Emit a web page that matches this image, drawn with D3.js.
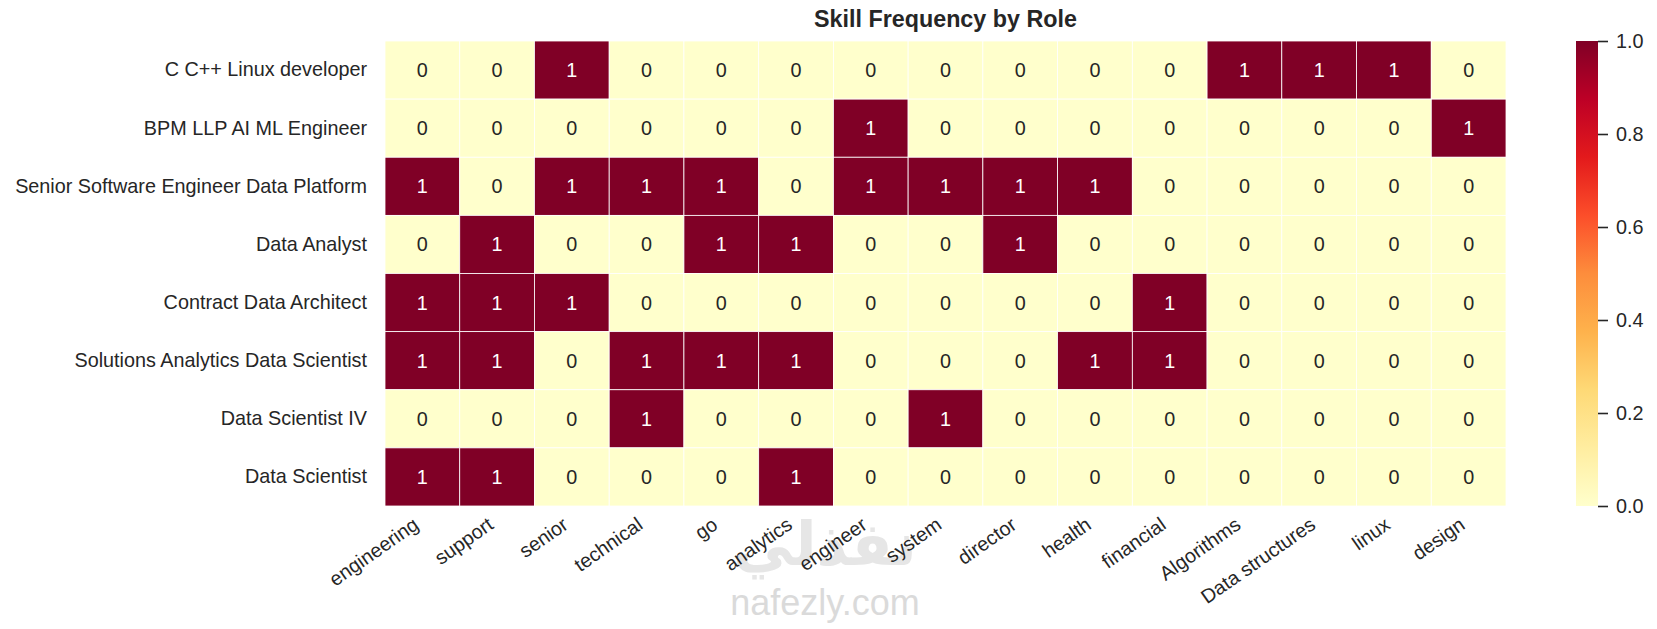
<!DOCTYPE html>
<html>
<head>
<meta charset="utf-8">
<script src="https://cdn.jsdelivr.net/npm/d3@7"></script>
<style>
    body { margin: 0; background: #fff; }
    svg text { font-family: "Liberation Sans", Arial, sans-serif; fill: #262626; }
</style>
</head>
<body>
<svg id="chart" width="1657" height="629"></svg>
<script>
/* Skill frequency heatmap */

const roles = [
    "C C++ Linux developer",
    "BPM LLP AI ML Engineer",
    "Senior Software Engineer Data Platform",
    "Data Analyst",
    "Contract Data Architect",
    "Solutions Analytics Data Scientist",
    "Data Scientist IV",
    "Data Scientist"
];

const skills = [
    "engineering", "support", "senior", "technical", "go", "analytics", "engineer",
    "system", "director", "health", "financial", "Algorithms", "Data structures", "linux", "design"
];

// one row per role, one value per skill
const counts = [
    [0, 0, 1, 0, 0, 0, 0, 0, 0, 0, 0, 1, 1, 1, 0],
    [0, 0, 0, 0, 0, 0, 1, 0, 0, 0, 0, 0, 0, 0, 1],
    [1, 0, 1, 1, 1, 0, 1, 1, 1, 1, 0, 0, 0, 0, 0],
    [0, 1, 0, 0, 1, 1, 0, 0, 1, 0, 0, 0, 0, 0, 0],
    [1, 1, 1, 0, 0, 0, 0, 0, 0, 0, 1, 0, 0, 0, 0],
    [1, 1, 0, 1, 1, 1, 0, 0, 0, 1, 1, 0, 0, 0, 0],
    [0, 0, 0, 1, 0, 0, 0, 1, 0, 0, 0, 0, 0, 0, 0],
    [1, 1, 0, 0, 0, 1, 0, 0, 0, 0, 0, 0, 0, 0, 0]
];

const colorTicks = [0, 0.2, 0.4, 0.6, 0.8, 1.0];

const title = "Skill Frequency by Role";

// YlOrRd stops (matplotlib)
const ylOrRd = ["#ffffcc", "#ffeda0", "#fed976", "#feb24c", "#fd8d3c", "#fc4e2a", "#e31a1c", "#bd0026", "#800026"];

const svg = d3.select("#chart");
const FONT = 19.8;

const x = d3.scaleBand().domain(skills).range([385, 1506]);
const y = d3.scaleBand().domain(roles).range([41, 506]);

const color = d3.scaleLinear()
    .domain(d3.range(ylOrRd.length).map(i => i / (ylOrRd.length - 1)))
    .range(ylOrRd)
    .interpolate(d3.interpolateRgb);

const cells = [];
roles.forEach((role, i) => {
    skills.forEach((skill, j) => {
        cells.push({ role, skill, value: counts[i][j] });
    });
});

svg.append("text")
    .attr("x", (x.range()[0] + x.range()[1]) / 2)
    .attr("y", 27)
    .attr("text-anchor", "middle")
    .style("font-size", "23.3px")
    .style("font-weight", "bold")
    .text(title);

// watermark (drawn under the labels)
const wm = svg.append("g");
wm.append("text")
    .attr("x", 825)
    .attr("y", 565)
    .attr("text-anchor", "middle")
    .style("font-family", "'DejaVu Sans', sans-serif")
    .style("font-size", "60px")
    .style("font-weight", "bold")
    .style("fill", "#e6e6e6")
    .text("نفذلي");
wm.append("text")
    .attr("x", 825)
    .attr("y", 615)
    .attr("text-anchor", "middle")
    .style("font-size", "36px")
    .style("fill", "#dadada")
    .text("nafezly.com");

const g = svg.append("g");

g.selectAll("rect.cell")
    .data(cells)
    .join("rect")
    .attr("class", "cell")
    .attr("x", d => x(d.skill))
    .attr("y", d => y(d.role))
    .attr("width", x.bandwidth())
    .attr("height", y.bandwidth())
    .attr("fill", d => color(d.value))
    .attr("stroke", "#fff")
    .attr("stroke-width", 0.8);

g.selectAll("text.annot")
    .data(cells)
    .join("text")
    .attr("class", "annot")
    .attr("x", d => x(d.skill) + x.bandwidth() / 2)
    .attr("y", d => y(d.role) + y.bandwidth() / 2)
    .attr("text-anchor", "middle")
    .attr("dominant-baseline", "central")
    .style("font-size", FONT + "px")
    .style("fill", d => (d.value > 0.5 ? "#ffffff" : "#262626"))
    .text(d => d.value);

// row labels
const yAxis = d3.axisLeft(y).tickSize(0).tickPadding(18);
const yg = svg.append("g").attr("transform", `translate(${x.range()[0]},0)`).call(yAxis);
yg.select(".domain").remove();
yg.selectAll("text").style("font-size", FONT + "px").style("fill", "#262626").attr("font-family", null);

// column labels, rotated
const angle = 35;
const rad = (angle * Math.PI) / 180;
const xAxis = d3.axisBottom(x).tickSize(0).tickPadding(0);
const xg = svg.append("g").attr("transform", `translate(0,${y.range()[1]})`).call(xAxis);
xg.select(".domain").remove();
xg.selectAll("text")
    .attr("y", null)
    .attr("dy", null)
    .attr("text-anchor", "end")
    .style("font-size", FONT + "px")
    .style("fill", "#262626")
    .attr("transform", `translate(${-0.21 * FONT * Math.sin(rad)},${7 + 0.9 * FONT * Math.cos(rad)}) rotate(${-angle})`);

// colour bar
const cbX = 1576;
const cbW = 22;
const cb = d3.scaleLinear().domain([0, 1]).range([y.range()[1], y.range()[0]]);

const defs = svg.append("defs");
const grad = defs.append("linearGradient")
    .attr("id", "cbGrad")
    .attr("x1", 0).attr("y1", 1)
    .attr("x2", 0).attr("y2", 0);
grad.selectAll("stop")
    .data(ylOrRd)
    .join("stop")
    .attr("offset", (d, i) => i / (ylOrRd.length - 1))
    .attr("stop-color", d => d);

svg.append("rect")
    .attr("x", cbX)
    .attr("y", cb(1))
    .attr("width", cbW)
    .attr("height", cb(0) - cb(1))
    .attr("fill", "url(#cbGrad)");

const cbAxis = d3.axisRight(cb).tickValues(colorTicks).tickFormat(d3.format(".1f")).tickSize(10).tickPadding(8);
const cg = svg.append("g").attr("transform", `translate(${cbX + cbW},0)`).call(cbAxis);
cg.select(".domain").remove();
cg.selectAll("line").attr("stroke", "#262626").attr("stroke-width", 1.6);
cg.selectAll("text").style("font-size", FONT + "px").style("fill", "#262626").attr("font-family", null);
</script>
</body>
</html>
